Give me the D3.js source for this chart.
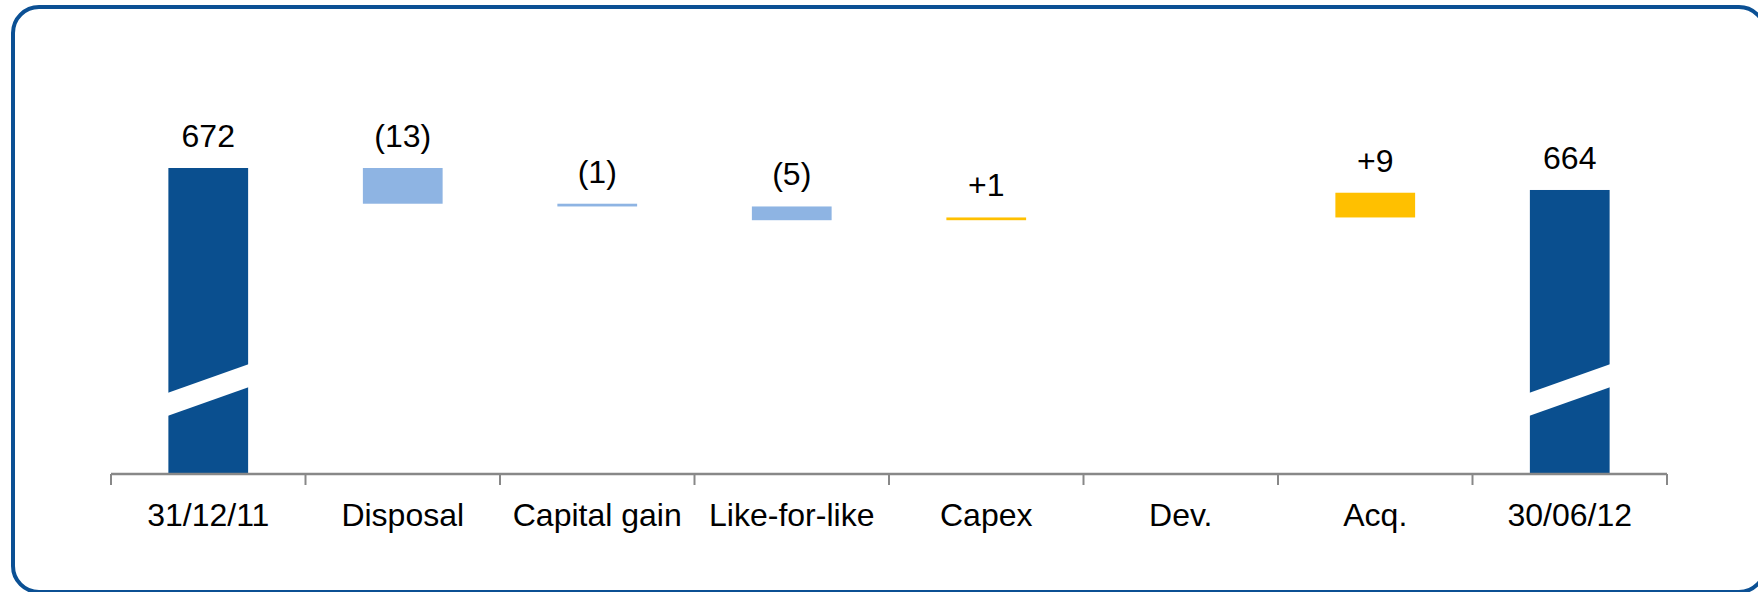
<!DOCTYPE html>
<html>
<head>
<meta charset="utf-8">
<script src="https://cdn.jsdelivr.net/npm/d3@7"></script>
<style>
  html, body { margin: 0; padding: 0; background: #ffffff; }
  svg { display: block; }
  text { font-family: "Liberation Sans", Arial, sans-serif; fill: #000000; }
</style>
</head>
<body>
<svg id="chart" width="1758" height="592"></svg>
<script>
// Portfolio value bridge, 31/12/11 to 30/06/12
const categories = ["31/12/11", "Disposal", "Capital gain", "Like-for-like", "Capex", "Dev.", "Acq.", "30/06/12"];
const values = [672, -13, -1, -5, 1, 0, 9, 664];
const kinds = ["total", "delta", "delta", "delta", "delta", "delta", "delta", "total"];
const valueLabels = ["672", "(13)", "(1)", "(5)", "+1", "", "+9", "664"];

const colors = { total: "#0A4F8F", neg: "#8EB4E3", pos: "#FFC000" };

const W = 1758, H = 592;
const axisY = 474;
const svg = d3.select("#chart");

// rounded frame
svg.append("rect")
  .attr("x", 13).attr("y", 7)
  .attr("width", 1752).attr("height", 585)
  .attr("rx", 26).attr("ry", 26)
  .attr("fill", "none")
  .attr("stroke", "#0B5094")
  .attr("stroke-width", 4);

const x = d3.scaleBand()
  .domain(categories)
  .range([111, 1667])
  .paddingInner(0.59)
  .paddingOuter(0.295);

// broken value axis: the floor value sits on the category axis
const y = d3.scaleLinear().domain([561, 672]).range([473, 168]);

// waterfall segments
let running = 0;
const bars = categories.map((c, i) => {
  const v = values[i];
  let lo, hi, fill;
  if (kinds[i] === "total") {
    running = v;
    lo = y.domain()[0]; hi = v; fill = colors.total;
  } else {
    const start = running;
    running = start + v;
    lo = Math.min(start, running); hi = Math.max(start, running);
    fill = v < 0 ? colors.neg : colors.pos;
  }
  return { cat: c, v, lo, hi, fill, kind: kinds[i], label: valueLabels[i] };
});

const g = svg.append("g");

g.selectAll("rect.bar")
  .data(bars.filter(d => d.hi > d.lo))
  .join("rect")
  .attr("class", "bar")
  .attr("x", d => x(d.cat))
  .attr("width", x.bandwidth())
  .attr("y", d => y(d.hi))
  .attr("height", d => y(d.lo) - y(d.hi))
  .attr("fill", d => d.fill);

// slanted break through the total bars
g.selectAll("polygon.brk")
  .data(bars.filter(d => d.kind === "total"))
  .join("polygon")
  .attr("class", "brk")
  .attr("fill", "#ffffff")
  .attr("points", d => {
    const x0 = x(d.cat) - 1, x1 = x(d.cat) + x.bandwidth() + 1;
    return [
      [x0, axisY - 81], [x1, axisY - 110],
      [x1, axisY - 87], [x0, axisY - 58]
    ].map(p => p.join(",")).join(" ");
  });

// value labels above each segment
g.selectAll("text.val")
  .data(bars.filter(d => d.label !== ""))
  .join("text")
  .attr("class", "val")
  .attr("x", d => x(d.cat) + x.bandwidth() / 2)
  .attr("y", d => y(d.hi) - 21)
  .attr("text-anchor", "middle")
  .attr("font-size", 32)
  .text(d => d.label);

// category axis with ticks at band boundaries
const [r0, r1] = x.range();
const axis = svg.append("g");
axis.append("line")
  .attr("x1", r0).attr("x2", r1)
  .attr("y1", axisY).attr("y2", axisY)
  .attr("stroke", "#888888").attr("stroke-width", 2.5);
const bounds = d3.range(categories.length + 1).map(i => r0 + i * x.step());
axis.selectAll("line.tick")
  .data(bounds)
  .join("line")
  .attr("class", "tick")
  .attr("x1", d => d).attr("x2", d => d)
  .attr("y1", axisY).attr("y2", 485)
  .attr("stroke", "#888888").attr("stroke-width", 2);
axis.selectAll("text.cat")
  .data(categories)
  .join("text")
  .attr("class", "cat")
  .attr("x", d => x(d) + x.bandwidth() / 2)
  .attr("y", 526)
  .attr("text-anchor", "middle")
  .attr("font-size", 32)
  .text(d => d);
</script>
</body>
</html>
